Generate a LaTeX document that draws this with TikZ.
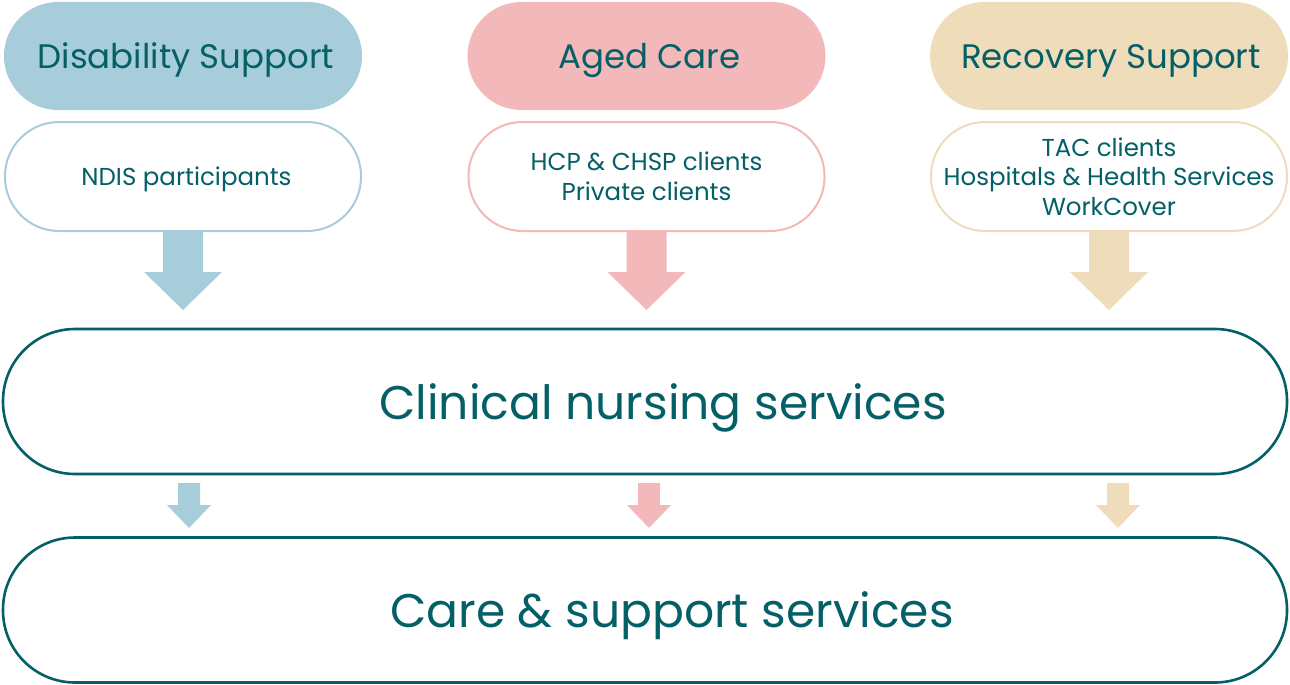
\documentclass[tikz,border=0pt]{standalone}
\usepackage{fontspec}
\setmainfont{Poppins}
\definecolor{teal1}{HTML}{045F67}
\definecolor{dsblue}{HTML}{A8CDDA}
\definecolor{acpink}{HTML}{F2B8BA}
\definecolor{rsbeige}{HTML}{EFDCBB}
\begin{document}
\begin{tikzpicture}[x=1pt,y=-1pt,
  head/.style={draw=none,minimum width=358pt,minimum height=108pt,rounded corners=54pt,text=teal1,font=\fontsize{34}{40}\selectfont,inner sep=0pt,text depth=0pt},
  sub/.style={line width=2pt,fill=white,minimum width=356pt,minimum height=109pt,rounded corners=54pt,text=teal1,font=\fontsize{24.5}{29.5}\selectfont,align=center,inner sep=0pt},
  big/.style={draw=teal1,line width=2.6pt,minimum width=1284pt,minimum height=145pt,rounded corners=72pt,text=teal1,font=\fontsize{47.2}{54}\selectfont,inner sep=0pt,text depth=0pt}]
\useasboundingbox (0,0) rectangle (1290,685);
\node[head,fill=dsblue] (dh) at (183,56) {\hspace*{6pt}Disability Support};
\node[head,fill=acpink] (ah) at (646.5,56) {\hspace*{6pt}Aged Care};
\node[head,fill=rsbeige] (rh) at (1109,56) {\hspace*{4pt}Recovery Support};
\node[sub,draw=dsblue,text depth=0pt] (ds) at (183,176.5) {\hspace*{7pt}NDIS participants};
\node[sub,draw=acpink] (as) at (646.5,176.5) {HCP \& CHSP clients\\Private clients};
\node[sub,draw=rsbeige] (rs) at (1109,176.5) {TAC clients\\Hospitals \& Health Services\\WorkCover};
\node[big] (cn) at (645,401.5) {\hspace*{36pt}Clinical nursing services};
\node[big] (cs) at (645,610) {\hspace*{54pt}Care \& support services};
\foreach \n/\c in {ds/dsblue,as/acpink,rs/rsbeige}{
  \fill[\c] (\n.south) ++(-20,-1) -- ++(0,41) -- ++(-19,0) -- ++(39,38) -- ++(39,-38) -- ++(-19,0) -- ++(0,-41) -- cycle;
}
\coordinate (s1) at (189,483);
\coordinate (s2) at (649,483);
\coordinate (s3) at (1118,483);
\foreach \n/\c in {s1/dsblue,s2/acpink,s3/rsbeige}{
  \fill[\c] (\n) ++(-11,0) -- ++(0,22) -- ++(-11,0) -- ++(22,23) -- ++(22,-23) -- ++(-11,0) -- ++(0,-22) -- cycle;
}
\end{tikzpicture}
\end{document}
